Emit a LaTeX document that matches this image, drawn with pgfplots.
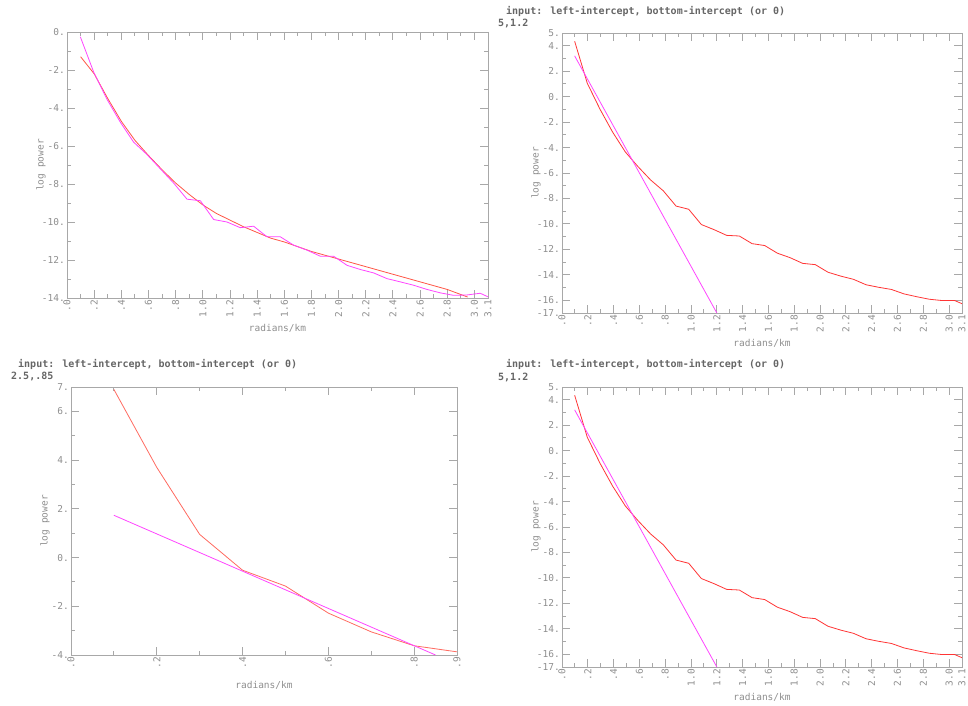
\documentclass[border=0pt]{standalone}
\usepackage{fontspec}
\setmainfont{DejaVu Sans Mono}
\usepackage{pgfplots}
\pgfplotsset{compat=1.18}
\definecolor{framegray}{HTML}{A8A8A8}
\definecolor{labelgray}{HTML}{8E8E8E}
\definecolor{titlegray}{HTML}{666666}
\definecolor{fitred}{HTML}{FF5545}
\definecolor{datared}{HTML}{FF3535}
\definecolor{salmon}{HTML}{FF6A60}
\definecolor{magentaline}{HTML}{FF45FF}
\pgfplotsset{
  panel/.style={
    scale only axis,
    axis line style={draw=framegray, line width=0.9pt},
    tick style={draw=framegray, line width=0.9pt},
    major tick length=8pt, minor tick length=4pt,
    tick align=inside, tick pos=both,
    xticklabel style={rotate=90, anchor=east, font=\fontsize{9.5}{10}\selectfont, text=labelgray, inner sep=2pt},
    yticklabel style={font=\fontsize{9.5}{10}\selectfont, text=labelgray, inner sep=2pt},
    xlabel={radians/km}, ylabel={log power},
    every axis x label/.style={at={(axis description cs:0.5,0)}, yshift=-30pt, anchor=center, font=\fontsize{9.5}{11}\selectfont, text=labelgray},
    every axis y label/.style={at={(axis description cs:0,0.5)}, xshift=-26pt, rotate=90, anchor=center, font=\fontsize{9.5}{11}\selectfont, text=labelgray},
    clip=true,
  },
  wide/.style={
    xmin=0, xmax=3.1,
    xtick={0,0.2,0.4,0.6,0.8,1.0,1.2,1.4,1.6,1.8,2.0,2.2,2.4,2.6,2.8,3.0,3.1},
    xticklabels={.0,.2,.4,.6,.8,1.0,1.2,1.4,1.6,1.8,2.0,2.2,2.4,2.6,2.8,3.0,3.1},
    minor xtick={0.1,0.3,0.5,0.7,0.9,1.1,1.3,1.5,1.7,1.9,2.1,2.3,2.5,2.7,2.9},
  },
  tall/.style={
    ymin=-17, ymax=5,
    ytick={-17,-16,-14,-12,-10,-8,-6,-4,-2,0,2,4,5},
    yticklabels={-17.,-16.,-14.,-12.,-10.,-8.,-6.,-4.,-2.,0.,2.,4.,5.},
    minor ytick={-15,-13,-11,-9,-7,-5,-3,-1,1,3},
  },
}
\pgfplotstableread{
x y
0.098 4.35
0.196 1.05
0.295 -1.0
0.393 -2.8
0.491 -4.35
0.589 -5.5
0.687 -6.55
0.785 -7.4
0.884 -8.6
0.982 -8.85
1.080 -10.05
1.178 -10.45
1.276 -10.9
1.374 -10.95
1.473 -11.55
1.571 -11.7
1.669 -12.3
1.767 -12.65
1.865 -13.1
1.963 -13.2
2.062 -13.8
2.160 -14.1
2.258 -14.35
2.356 -14.78
2.454 -14.98
2.553 -15.15
2.651 -15.5
2.749 -15.72
2.847 -15.92
2.945 -16.02
3.043 -16.02
3.100 -16.27
}\specdata
\begin{document}
\begin{tikzpicture}[x=1pt,y=1pt]
\useasboundingbox (0,0) rectangle (968,705);
% top left
\begin{axis}[panel, wide, at={(67pt,407pt)}, anchor=south west, width=421pt, height=266pt,
  ymin=-14, ymax=0,
  ytick={-14,-12,-10,-8,-6,-4,-2,0},
  yticklabels={-14.,-12.,-10.,-8.,-6.,-4.,-2.,0.},
  minor ytick={-13,-11,-9,-7,-5,-3,-1}]
\addplot[fitred, line width=0.8pt] coordinates {
(0.1,-1.3) (0.2,-2.2) (0.3,-3.5) (0.4,-4.7) (0.5,-5.7) (0.6,-6.5) (0.7,-7.25) (0.8,-7.95)
(0.9,-8.55) (1.0,-9.1) (1.1,-9.55) (1.2,-9.9) (1.3,-10.25) (1.4,-10.55) (1.5,-10.85)
(1.6,-11.05) (1.7,-11.3) (1.8,-11.55) (1.9,-11.75) (2.0,-11.95) (2.2,-12.35) (2.4,-12.75)
(2.6,-13.15) (2.8,-13.55) (2.95,-13.95)};
\addplot[magentaline, line width=0.8pt] coordinates {
(0.098,-0.25) (0.196,-2.1) (0.295,-3.55) (0.393,-4.75) (0.491,-5.8) (0.589,-6.45)
(0.687,-7.2) (0.785,-7.95) (0.884,-8.8) (0.982,-8.88) (1.080,-9.87) (1.178,-10.0)
(1.276,-10.3) (1.374,-10.22) (1.473,-10.78) (1.571,-10.78) (1.669,-11.22) (1.767,-11.48)
(1.865,-11.8) (1.963,-11.8) (2.062,-12.28) (2.160,-12.5) (2.258,-12.68) (2.356,-12.98)
(2.454,-13.15) (2.553,-13.33) (2.651,-13.55) (2.749,-13.73) (2.847,-13.86) (2.945,-13.84)
(3.043,-13.75) (3.1,-13.94)};
\end{axis}
% top right
\begin{axis}[panel, wide, tall, at={(562pt,392pt)}, anchor=south west, width=400pt, height=280pt]
\addplot[datared, line width=0.8pt] table[x=x,y=y] {\specdata};
\addplot[magentaline, line width=0.8pt] coordinates {(0.098,3.2) (1.2,-17)};
\end{axis}
% bottom left
\begin{axis}[panel, at={(71pt,50pt)}, anchor=south west, width=386pt, height=268pt,
  xmin=0, xmax=0.9,
  xtick={0,0.2,0.4,0.6,0.8,0.9}, xticklabels={.0,.2,.4,.6,.8,.9},
  minor xtick={0.1,0.3,0.5,0.7},
  ymin=-4, ymax=7,
  ytick={-4,-2,0,2,4,6,7}, yticklabels={-4.,-2.,0.,2.,4.,6.,7.},
  minor ytick={-3,-1,1,3,5}]
\addplot[salmon, line width=0.8pt] coordinates {
(0.1,6.9) (0.2,3.7) (0.3,0.95) (0.4,-0.52) (0.5,-1.17) (0.6,-2.28) (0.7,-3.05) (0.8,-3.62) (0.9,-3.87)};
\addplot[magentaline, line width=0.8pt] coordinates {(0.1,1.735) (0.85,-4.0)};
\end{axis}
% bottom right
\begin{axis}[panel, wide, tall, at={(562pt,38pt)}, anchor=south west, width=400pt, height=280pt]
\addplot[datared, line width=0.8pt] table[x=x,y=y] {\specdata};
\addplot[magentaline, line width=0.8pt] coordinates {(0.098,3.2) (1.2,-17)};
\end{axis}
% prompts
\begin{scope}[every node/.style={anchor=west, inner sep=0pt, text=titlegray, font=\bfseries\fontsize{10}{12}\selectfont}]
\node at (506,694) {input: left-intercept, bottom-intercept (or 0)};
\node at (498,682) {5,1.2};
\node at (18,341) {input: left-intercept, bottom-intercept (or 0)};
\node at (11,329) {2.5,.85};
\node at (506,341) {input: left-intercept, bottom-intercept (or 0)};
\node at (498,328) {5,1.2};
\end{scope}
\end{tikzpicture}
\end{document}
